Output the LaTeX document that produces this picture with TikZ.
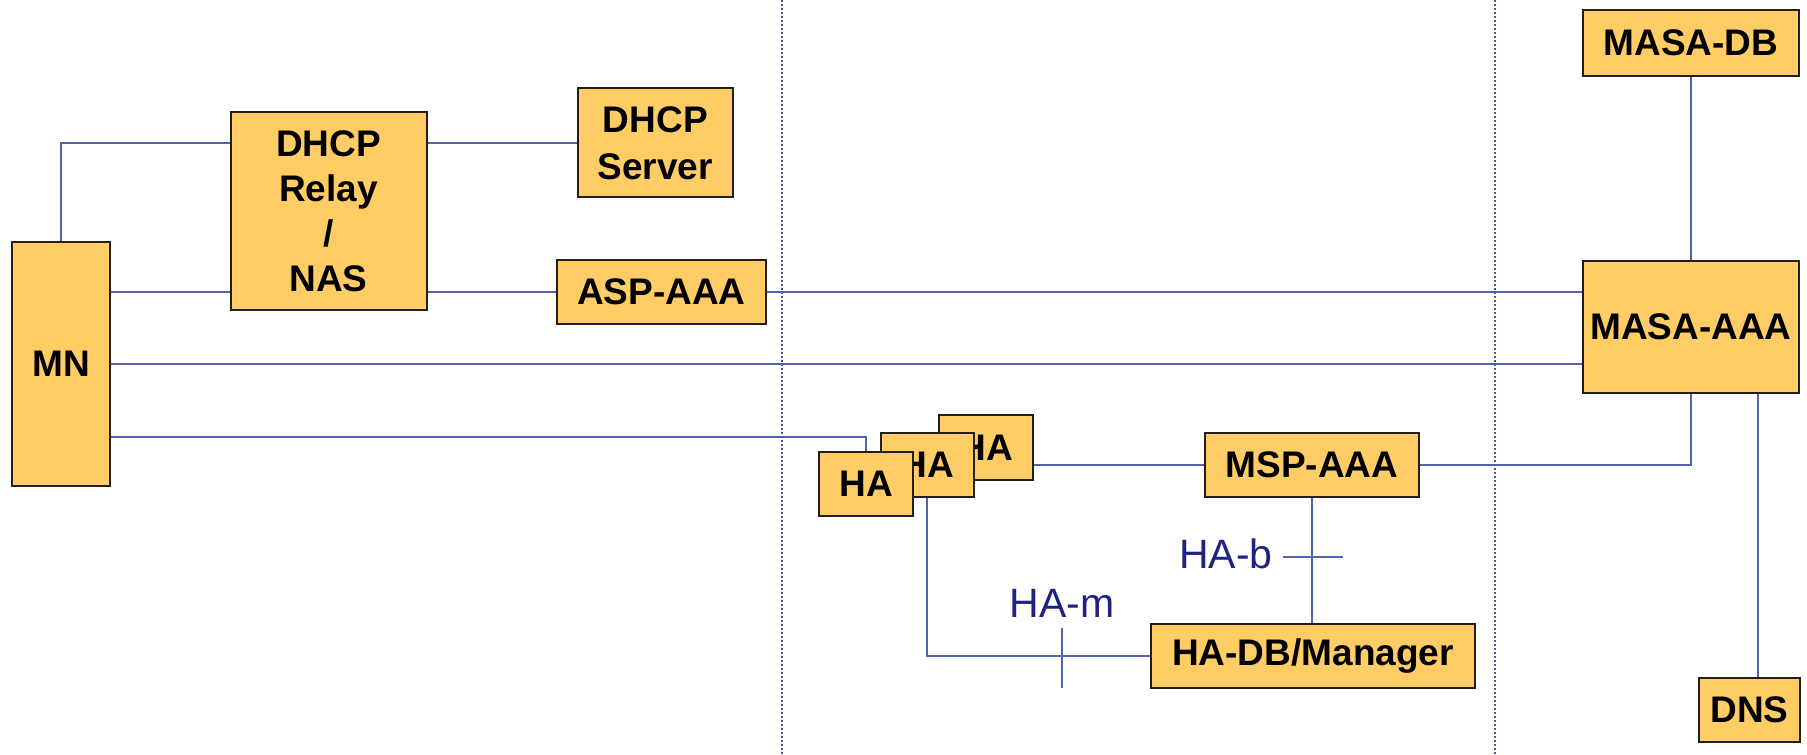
\documentclass[tikz,border=0pt]{standalone}
\usepackage{fontspec}
\setmainfont{Liberation Sans}
\definecolor{boxfill}{RGB}{255,204,102}
\definecolor{boxedge}{RGB}{35,30,25}
\definecolor{linkblue}{RGB}{84,98,170}
\definecolor{sepblue}{RGB}{70,80,160}
\definecolor{refnavy}{RGB}{28,36,128}
\tikzset{
  box/.style={draw=boxedge, line width=1pt, fill=boxfill, inner sep=0pt, align=center,
    font=\fontsize{18.5}{22.5}\selectfont\bfseries},
  link/.style={draw=linkblue, line width=0.8pt},
  sepline/.style={draw=sepblue, line width=0.6pt, dash pattern=on 1pt off 1pt},
  reflabel/.style={text=refnavy, font=\fontsize{20.5}{24}\selectfont, inner sep=0pt, anchor=base}
}
\begin{document}
\begin{tikzpicture}[x=0.5pt, y=-0.5pt]
\useasboundingbox (0,0) rectangle (1807,754);

% domain separators
\coordinate (s1t) at (782,0);   \coordinate (s1b) at (782,754);
\coordinate (s2t) at (1495,0);  \coordinate (s2b) at (1495,754);
\draw[sepline] (s1t) -- (s1b);
\draw[sepline] (s2t) -- (s2b);

% entities
\node[box, minimum width=49pt, minimum height=122pt] (mn) at (61,364) {MN};
\node[box, minimum width=98pt, minimum height=99.2pt] (relay) at (328.5,211) {DHCP\\Relay\\/\\NAS};
\node[box, minimum width=77.7pt, minimum height=54.5pt] (server) at (655.3,143) {DHCP\\[1pt]Server};
\node[box, minimum width=104.7pt, minimum height=32.2pt] (asp) at (661.3,292) {ASP-AAA};
\node[box, minimum width=108pt, minimum height=33pt] (masadb) at (1691,43) {MASA-DB};
\node[box, minimum width=108pt, minimum height=66pt] (masa) at (1691,327) {MASA-AAA};
\node[box, minimum width=50.5pt, minimum height=32pt] (dns) at (1749.5,710) {DNS};
\node[box, minimum width=107pt, minimum height=32.3pt] (msp) at (1312,465) {MSP-AAA};
\node[box, minimum width=161.6pt, minimum height=32.3pt] (hadb) at (1313,656) {HA-DB/Manager};

% stacked home agents, back to front
\node[box, minimum width=46.7pt, minimum height=32.5pt] (ha3) at (986,447.5) {HA};
\node[box, minimum width=46.5pt, minimum height=32.3pt] (ha2) at (927,465) {HA};
\node[box, minimum width=46.9pt, minimum height=32.2pt] (ha1) at (866,484) {HA};

% helper levels
\coordinate (ytop) at (0,143);
\coordinate (yha) at (0,437);
\coordinate (xdns) at (1758,0);

% connectors
\draw[link] (mn.north) |- (relay.west |- ytop);
\draw[link] (relay.east |- ytop) -- (server.west |- ytop);
\draw[link] (mn.east |- asp) -- (relay.west |- asp);
\draw[link] (relay.east |- asp) -- (asp.west);
\draw[link] (asp.east) -- (masa.west |- asp);
\draw[link] (mn.east) -- (masa.west |- mn);
\draw[link] (mn.east |- yha) -| (ha1.north);
\draw[link] (ha3.east |- msp) -- (msp.west);
\draw[link] (msp.east) -| (masa.south);
\draw[link] (masadb.south) -- (masa.north);
\draw[link] (masa.south -| xdns) -- (dns.north -| xdns);
\draw[link] (ha2.south) |- (hadb.west);
\draw[link] (msp.south) -- (msp.south |- hadb.north);

% reference point markers
\coordinate (hamt) at (1062,628); \coordinate (hamb) at (1062,688);
\coordinate (habl) at (1283,557); \coordinate (habr) at (1343,557);
\draw[link] (hamt) -- (hamb);
\draw[link] (habl) -- (habr);
\node[reflabel] (ham) at (1062,617) {HA-m};
\node[reflabel] (hab) at (1226,568) {HA-b};
\end{tikzpicture}
\end{document}
